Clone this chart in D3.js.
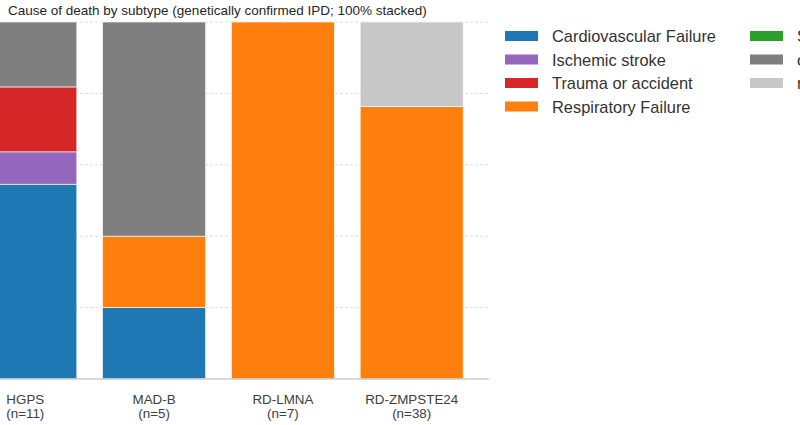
<!DOCTYPE html>
<html>
<head>
<meta charset="utf-8">
<script src="https://cdn.jsdelivr.net/npm/d3@7"></script>
<style>
  body { margin: 0; background: #fff; }
  svg { display: block; font-family: "Liberation Sans", Arial, sans-serif; }
</style>
</head>
<body>
<div id="chart"></div>
<script>
// subtypes and counts per cause of death
var subtypes = ["HGPS", "MAD-B", "RD-LMNA", "RD-ZMPSTE24"];
var subtypeN = [11, 5, 7, 38];
var causes = ["Cardiovascular Failure", "Ischemic stroke", "Trauma or accident", "Respiratory Failure",
  "Sudden death", "other", "not reported"];
var causeColors = ["#1f77b4", "#9467bd", "#d62728", "#ff7f0e", "#2ca02c", "#7f7f7f", "#c7c7c7"];

var cardiovascular = [6, 1, 0, 0];
var ischemic = [1, 0, 0, 0];
var trauma = [2, 0, 0, 0];
var respiratory = [0, 1, 7, 29];
var sudden = [0, 0, 0, 0];
var other = [2, 3, 0, 0];
var notReported = [0, 0, 0, 9];
var yTicks = [0, 0.2, 0.4, 0.6, 0.8, 1.0];

var counts = [cardiovascular, ischemic, trauma, respiratory, sudden, other, notReported];

var rows = subtypes.map(function (s, i) {
  var row = { subtype: s, n: subtypeN[i] };
  causes.forEach(function (c, j) {
    row[c] = counts[j][i] / subtypeN[i];
  });
  return row;
});

var width = 800, height = 425;
var margin = { top: 22, bottom: 46, left: -52, right: 311 };

var svg = d3.select("#chart").append("svg")
  .attr("width", width)
  .attr("height", height);

var x = d3.scaleBand()
  .domain(subtypes)
  .range([margin.left, width - margin.right])
  .paddingInner(0.2)
  .paddingOuter(0.2);

var y = d3.scaleLinear()
  .domain([0, 1])
  .range([height - margin.bottom, margin.top]);

var stack = d3.stack().keys(causes);
var series = stack(rows);

// grid
svg.append("g")
  .selectAll("line")
  .data(yTicks.slice(1))
  .join("line")
  .attr("x1", 0)
  .attr("x2", width - margin.right)
  .attr("y1", function (d) { return y(d); })
  .attr("y2", function (d) { return y(d); })
  .style("stroke", "#dedede")
  .style("stroke-width", 1)
  .style("stroke-dasharray", "3,2");

// bars
svg.append("g")
  .selectAll("g")
  .data(series)
  .join("g")
  .style("fill", function (d, i) { return causeColors[i]; })
  .selectAll("rect")
  .data(function (d) { return d; })
  .join("rect")
  .attr("x", function (d) { return x(d.data.subtype); })
  .attr("width", x.bandwidth())
  .attr("y", function (d) { return y(d[1]); })
  .attr("height", function (d) { return y(d[0]) - y(d[1]); })
  .style("stroke", "#fff")
  .style("stroke-width", 0.8)
  .style("stroke-opacity", 0.8);

// x axis line
svg.append("line")
  .attr("x1", 0)
  .attr("x2", width - margin.right)
  .attr("y1", y(0))
  .attr("y2", y(0))
  .style("stroke", "#cccccc")
  .style("stroke-width", 1.5);

// x tick labels
var xLabels = svg.append("g")
  .selectAll("text")
  .data(rows)
  .join("text")
  .attr("text-anchor", "middle")
  .attr("x", function (d) { return x(d.subtype) + x.bandwidth() / 2; })
  .attr("y", y(0) + 25)
  .style("font-size", "13.4px")
  .style("fill", "#404040");
xLabels.append("tspan")
  .attr("x", function (d) { return x(d.subtype) + x.bandwidth() / 2; })
  .text(function (d) { return d.subtype; });
xLabels.append("tspan")
  .attr("x", function (d) { return x(d.subtype) + x.bandwidth() / 2; })
  .attr("dy", 13.5)
  .text(function (d) { return "(n=" + d.n + ")"; });

// title
svg.append("text")
  .attr("x", 8)
  .attr("y", 14.5)
  .style("font-size", "13.5px")
  .style("fill", "#262626")
  .text("Cause of death by subtype (genetically confirmed IPD; 100% stacked)");

// legend (second column runs off the right edge, as in the source)
var legend = svg.append("g")
  .selectAll("g")
  .data(causes)
  .join("g")
  .attr("transform", function (d, i) {
    var col = i < 4 ? 0 : 1;
    var row = i < 4 ? i : i - 4;
    return "translate(" + (505 + col * 245) + "," + (36 + row * 23.5) + ")";
  });
legend.append("rect")
  .attr("x", 0)
  .attr("y", -5)
  .attr("width", 33)
  .attr("height", 10)
  .style("fill", function (d, i) { return causeColors[i]; });
legend.append("text")
  .attr("x", 47)
  .attr("y", 6)
  .style("font-size", "16.4px")
  .style("fill", "#333")
  .text(function (d) { return d; });
</script>
</body>
</html>
